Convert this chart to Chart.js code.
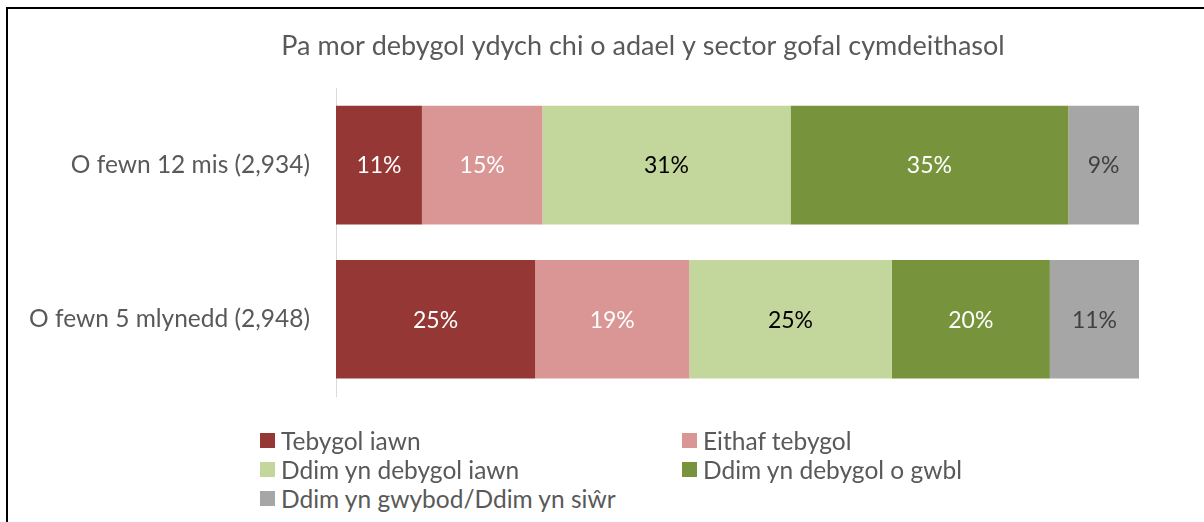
<!DOCTYPE html>
<html>
<head>
<meta charset="utf-8">
<script src="https://cdn.jsdelivr.net/npm/chart.js@4/dist/chart.umd.min.js"></script>
<style>
	body { margin: 0; background: #fff; font-family: Lato, sans-serif; }
	#wrap { position: relative; width: 1204px; height: 522px; overflow: hidden; }
	#frame { position: absolute; left: 6px; top: 7px; right: -10px; bottom: -10px;
		border-top: 2px solid #000; border-left: 2px solid #000; }
	#graph { position: absolute; left: 0; top: 0; }
	.item { position: absolute; display: flex; align-items: center; height: 29px;
		font-size: 24.5px; color: #595959; white-space: nowrap; }
	.item span { display: inline-block; width: 15px; height: 15px; margin-right: 6px; }
</style>
</head>
<body>
<div id="wrap">
	<div id="frame"></div>
	<canvas id="graph" width="1204" height="437"></canvas>
	<div id="legend"></div>
</div>
<script>
const title = 'Pa mor debygol ydych chi o adael y sector gofal cymdeithasol';
const categories = ['O fewn 12 mis (2,934)', 'O fewn 5 mlynedd (2,948)'];
const answers = ['Tebygol iawn', 'Eithaf tebygol', 'Ddim yn debygol iawn', 'Ddim yn debygol o gwbl', 'Ddim yn gwybod/Ddim yn siŵr'];
const veryLikely = [10.7, 24.8];
const fairlyLikely = [15.0, 19.2];
const notVeryLikely = [30.9, 25.2];
const notAtAll = [34.6, 19.7];
const dontKnow = [8.8, 11.1];
const colours = ['#953735', '#D99694', '#C3D69B', '#77933C', '#A6A6A6'];
const labelColours = ['#ffffff', '#ffffff', '#000000', '#ffffff', '#404040'];

const series = [veryLikely, fairlyLikely, notVeryLikely, notAtAll, dontKnow];

const barLabels = {
	id: 'barLabels',
	afterDatasetsDraw(chart) {
		const ctx = chart.ctx;
		ctx.save();
		ctx.font = '23px Lato';
		ctx.textAlign = 'center';
		ctx.textBaseline = 'middle';
		chart.data.datasets.forEach(function(ds, i) {
			chart.getDatasetMeta(i).data.forEach(function(bar, j) {
				ctx.fillStyle = labelColours[i];
				ctx.fillText(Math.round(ds.data[j]) + '%', (bar.x + bar.base) / 2, bar.y + 1);
			});
		});
		ctx.restore();
	}
};

// title sits off-centre in the original, so draw it by hand
const offTitle = {
	id: 'offTitle',
	afterDraw(chart) {
		const ctx = chart.ctx;
		ctx.save();
		ctx.font = '27px Lato';
		ctx.fillStyle = '#595959';
		ctx.textAlign = 'center';
		ctx.textBaseline = 'middle';
		ctx.fillText(title, 643, 46);
		ctx.restore();
	}
};

const ctx = document.getElementById('graph').getContext('2d');

const myChart = new Chart(ctx, {
	type: 'bar',
	data: {
		labels: categories,
		datasets: series.map(function(s, i) {
			return {
				label: answers[i],
				data: s,
				backgroundColor: colours[i],
				borderWidth: 0,
				barPercentage: 1,
				categoryPercentage: 0.77
			};
		})
	},
	plugins: [barLabels, offTitle],
	options: {
		indexAxis: 'y',
		responsive: false,
		animation: false,
		layout: {
			padding: { left: 0, right: 65, top: 88, bottom: 3 }
		},
		plugins: {
			legend: { display: false },
			tooltip: { enabled: false },
			title: { display: false }
		},
		scales: {
			x: {
				stacked: true,
				display: false,
				min: 0,
				max: 100
			},
			y: {
				stacked: true,
				grid: { display: false, drawTicks: false },
				border: { display: true, color: '#D9D9D9', width: 1 },
				ticks: {
					color: '#595959',
					padding: 26,
					font: { family: 'Lato', size: 24.5 }
				},
				afterFit: function(scale) {
					scale.width = 336;
				}
			}
		}
	}
});

// legend in two columns like the original
const legend = document.getElementById('legend');
const spots = [[260, 426], [682, 426], [260, 455], [682, 455], [260, 484]];
answers.forEach(function(name, i) {
	const el = document.createElement('div');
	el.className = 'item';
	el.style.left = spots[i][0] + 'px';
	el.style.top = spots[i][1] + 'px';
	el.innerHTML = '<span style="background:' + colours[i] + '"></span>' + name;
	legend.appendChild(el);
});
</script>
</body>
</html>
